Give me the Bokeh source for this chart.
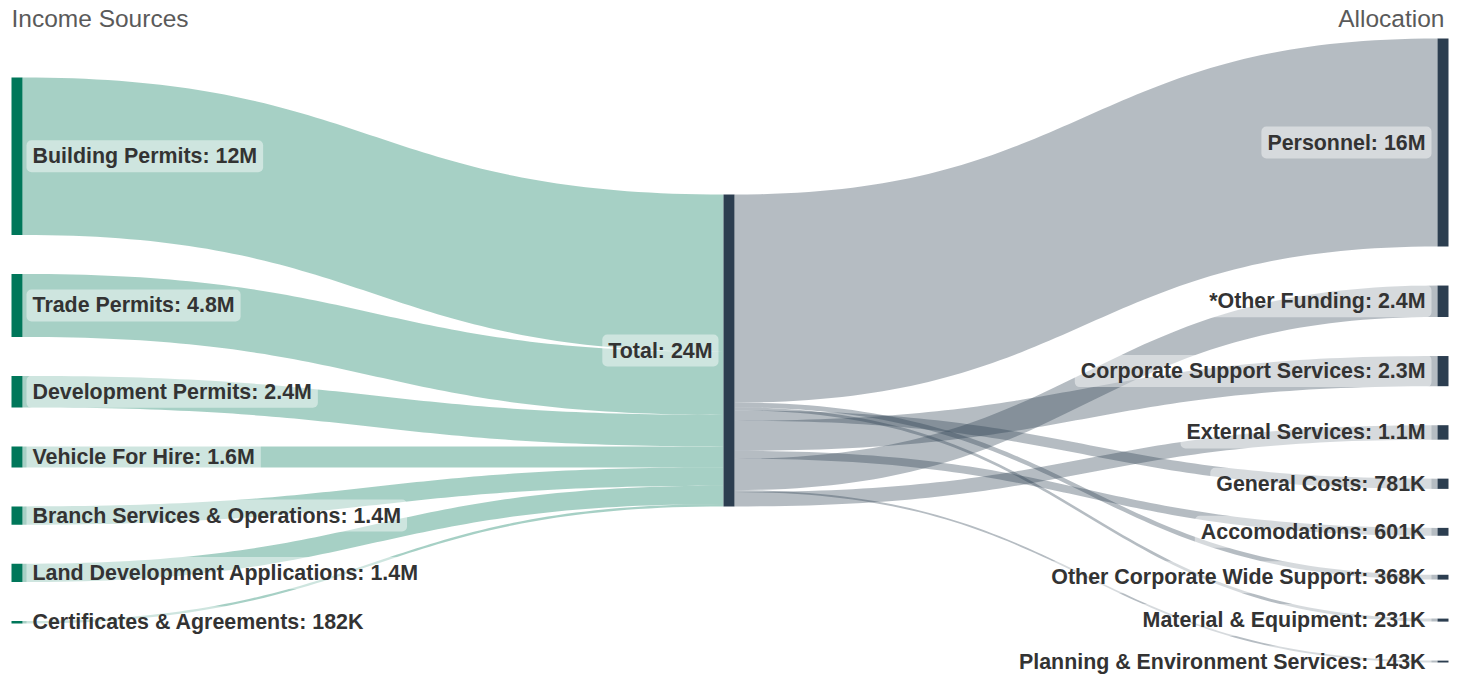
import numpy as np
from bokeh.plotting import figure
from bokeh.models import Range1d, ColumnDataSource
from bokeh.embed import file_html
from bokeh.resources import INLINE
from bokeh.core.properties import value

# ---------------- data (values in $M) ----------------
income_labels = ["Building Permits", "Trade Permits", "Development Permits",
                 "Vehicle For Hire", "Branch Services & Operations",
                 "Land Development Applications", "Certificates & Agreements"]
income_values = [12.0, 4.8, 2.4, 1.6, 1.4, 1.4, 0.182]

total_label = "Total"

alloc_labels = ["Personnel", "*Other Funding", "Corporate Support Services",
                "External Services", "General Costs", "Accomodations",
                "Other Corporate Wide Support", "Material & Equipment",
                "Planning & Environment Services"]
alloc_values = [15.858, 2.4, 2.3, 1.1, 0.781, 0.601, 0.368, 0.231, 0.143]

# order in which the allocation flows leave the Total node (top to bottom)
alloc_flow_order = ["Personnel", "Other Corporate Wide Support",
                    "Material & Equipment", "General Costs",
                    "Corporate Support Services", "Accomodations",
                    "*Other Funding", "Planning & Environment Services",
                    "External Services"]

col_titles = ["Income Sources", "Allocation"]

# ---------------- styling / layout ----------------
W, H = 1465, 675
TOP, BOTTOM, PAD, NODE_W = 38, 662, 39, 11
X_LEFT, X_MID, X_RIGHT = 11, 723, 1437
CENTER = (TOP + BOTTOM) / 2
INCOME_NODE = "#00775a"
DARK_NODE = "#2c3e50"
LINK_ALPHA = 0.35
FONT = value("Liberation Sans")

total_value = sum(income_values)
n_max = max(len(income_values), len(alloc_values))
k = (BOTTOM - TOP - PAD * (n_max - 1)) / max(total_value, sum(alloc_values))


def column(vals):
    hs = [v * k for v in vals]
    colh = sum(hs) + PAD * (len(vals) - 1)
    y = CENTER - colh / 2
    out = []
    for h in hs:
        out.append((y, y + h))
        y += h + PAD
    return out


def fmt(v):
    if v >= 1:
        return f"{v:.2g}M"
    return f"{round(v * 1000)}K"


left_nodes = column(income_values)
right_nodes = column(alloc_values)
mid_h = total_value * k
mid_node = (CENTER - mid_h / 2, CENTER + mid_h / 2)

p = figure(width=W, height=H, x_range=Range1d(0, W), y_range=Range1d(H, 0),
           output_backend="svg", toolbar_location=None, min_border=0)
p.axis.visible = False
p.grid.visible = False
p.outline_line_color = None
p.background_fill_color = "white"
p.border_fill_color = "white"

t = np.linspace(0, 1, 80)


def band(xs, xt, ys0, ys1, yt0, yt1):
    xm = (xs + xt) / 2
    bx = (1 - t) ** 3 * xs + 3 * (1 - t) ** 2 * t * xm + 3 * (1 - t) * t ** 2 * xm + t ** 3 * xt
    s = 3 * t ** 2 - 2 * t ** 3
    top = ys0 + (yt0 - ys0) * s
    bot = ys1 + (yt1 - ys1) * s
    return np.concatenate([bx, bx[::-1]]), np.concatenate([top, bot[::-1]])


# links: income -> total
lx, ly = [], []
cur = mid_node[0]
for (y0, y1), v in zip(left_nodes, income_values):
    h = v * k
    bx, by = band(X_LEFT + NODE_W, X_MID, y0, y1, cur, cur + h)
    lx.append(bx); ly.append(by)
    cur += h
p.patches(lx, ly, fill_color=INCOME_NODE, fill_alpha=LINK_ALPHA, line_color=None)

# links: total -> allocation
rx, ry = [], []
cur = mid_node[0]
for name in alloc_flow_order:
    i = alloc_labels.index(name)
    h = alloc_values[i] * k
    y0, y1 = right_nodes[i]
    bx, by = band(X_MID + NODE_W, X_RIGHT, cur, cur + h, y0, y1)
    rx.append(bx); ry.append(by)
    cur += h
p.patches(rx, ry, fill_color=DARK_NODE, fill_alpha=LINK_ALPHA, line_color=None)

# nodes
p.quad(left=[X_LEFT] * len(left_nodes), right=[X_LEFT + NODE_W] * len(left_nodes),
       top=[a for a, b in left_nodes], bottom=[b for a, b in left_nodes],
       fill_color=INCOME_NODE, line_color=None)
p.quad(left=[X_MID], right=[X_MID + NODE_W], top=[mid_node[0]], bottom=[mid_node[1]],
       fill_color=DARK_NODE, line_color=None)
p.quad(left=[X_RIGHT] * len(right_nodes), right=[X_RIGHT + NODE_W] * len(right_nodes),
       top=[a for a, b in right_nodes], bottom=[b for a, b in right_nodes],
       fill_color=DARK_NODE, line_color=None)

label_style = dict(text_font=FONT, text_font_style="bold", text_font_size="21.4px",
                   text_color="#333333", text_baseline="middle",
                   background_fill_color="white", background_fill_alpha=0.45,
                   border_radius=5, padding=(6, 4))

src_l = ColumnDataSource(dict(
    x=[X_LEFT + NODE_W + 4] * len(left_nodes),
    y=[(a + b) / 2 for a, b in left_nodes],
    text=[f"{n}: {fmt(v)}" for n, v in zip(income_labels, income_values)]))
p.text(x="x", y="y", text="text", source=src_l, text_align="left", **label_style)

src_m = ColumnDataSource(dict(x=[X_MID - 5], y=[CENTER],
                              text=[f"{total_label}: {fmt(total_value)}"]))
p.text(x="x", y="y", text="text", source=src_m, text_align="right", **label_style)

src_r = ColumnDataSource(dict(
    x=[X_RIGHT - 6] * len(right_nodes),
    y=[(a + b) / 2 for a, b in right_nodes],
    text=[f"{n}: {fmt(v)}" for n, v in zip(alloc_labels, alloc_values)]))
p.text(x="x", y="y", text="text", source=src_r, text_align="right", **label_style)

# column titles
p.text(x=[11], y=[18], text=[col_titles[0]], text_font=FONT, text_font_size="24.5px",
       text_color="#5a5a5a", text_align="left", text_baseline="middle")
p.text(x=[1444], y=[18], text=[col_titles[1]], text_font=FONT, text_font_size="24.5px",
       text_color="#5a5a5a", text_align="right", text_baseline="middle")

open("out.html", "w").write(file_html(p, INLINE))
